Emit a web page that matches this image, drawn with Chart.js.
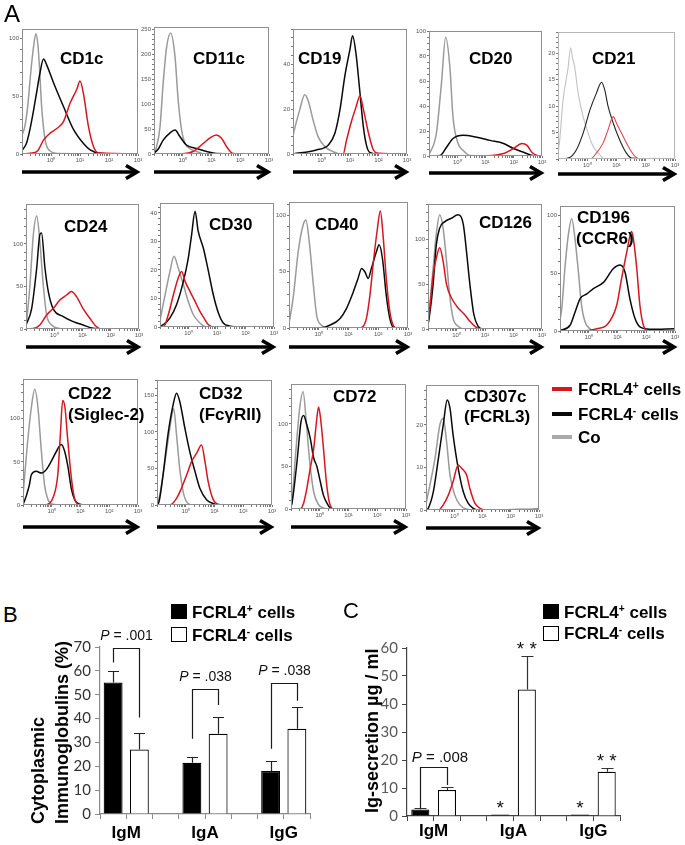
<!DOCTYPE html>
<html><head><meta charset="utf-8">
<script src="https://cdn.jsdelivr.net/npm/chart.js@4.4.1/dist/chart.umd.min.js"></script>
<style>
html,body{margin:0;padding:0;background:#fff;}
body{width:685px;height:845px;position:relative;overflow:hidden;font-family:"Liberation Sans",Arial,sans-serif;}
canvas{position:absolute;}
.t{position:absolute;white-space:nowrap;line-height:1;color:#000;}
.t sup{font-size:0.6em;position:relative;top:-0.55em;vertical-align:baseline;line-height:0;}
.sw{position:absolute;box-sizing:border-box;}
.rot{position:absolute;white-space:nowrap;font-weight:bold;font-size:18px;line-height:24px;transform-origin:0 0;transform:rotate(-90deg);color:#000;}
</style></head><body>
<script>
// ---------------- DATA: panel A histograms (x = log10 fluorescence, y = cell count) ----------------
const xMajor = [0, 1, 2, 3];
const xTickLabels = ['10⁰', '10¹', '10²', '10³'];

const cd1cCo  = [[-1,16],[-0.9,24],[-0.8,42],[-0.7,70],[-0.6,93],[-0.52,104],[-0.45,94],[-0.4,76],[-0.32,40],[-0.2,12],[-0.05,3],[0.25,0.5],[3,0]];
const cd1cNeg = [[-1,3],[-0.85,9],[-0.72,22],[-0.6,38],[-0.49,54],[-0.38,70],[-0.26,82],[-0.15,77],[0.08,62],[0.43,41],[0.78,21],[1.12,9],[1.35,3.5],[1.7,0.5],[3,0]];
const cd1cPos = [[-1,0],[-0.6,1],[-0.45,3],[-0.26,12],[-0.03,18],[0.2,22],[0.43,28],[0.66,44],[0.89,56],[1.0,63],[1.12,52],[1.29,24],[1.47,6],[1.64,1],[3,0]];
const cd1cTicks = [0, 50, 100];

const cd11cCo  = [[-1,3],[-0.91,15],[-0.79,55],[-0.68,143],[-0.56,215],[-0.42,243],[-0.27,196],[-0.16,109],[-0.04,48],[0.08,21],[0.25,11],[0.48,5],[0.75,0],[3,0]];
const cd11cNeg = [[-1,2],[-0.85,10],[-0.68,28],[-0.45,42],[-0.27,48],[-0.1,35],[0.13,18],[0.48,11],[0.83,5],[1.17,1],[3,0]];
const cd11cPos = [[-1,0],[0,0.5],[0.36,5],[0.71,21],[0.94,32],[1.17,38],[1.34,32],[1.57,11],[1.75,1],[2,0],[3,0]];
const cd11cTicks = [0, 50, 100, 150, 200, 250];

const cd19Co  = [[-1,8],[-0.98,9.3],[-0.76,20],[-0.59,26.6],[-0.47,24],[-0.29,15],[-0.12,7.8],[0.12,3.3],[0.41,1],[0.7,0],[3,0]];
const cd19Neg = [[-1,0],[-0.18,1.8],[0.24,4],[0.47,9.3],[0.65,20],[0.82,35],[1.0,47],[1.09,53],[1.21,45],[1.33,30],[1.47,12],[1.59,3.3],[1.71,0.6],[2,0],[3,0]];
const cd19Pos = [[-1,0],[0.76,0],[0.88,6.3],[1.06,15],[1.21,21],[1.35,26],[1.47,20],[1.65,9.3],[1.82,1.8],[2.0,0.3],[3,0]];
const cd19Ticks = [0, 20, 40];

const cd20Co  = [[-1,1],[-0.98,2],[-0.74,18],[-0.56,58],[-0.41,95],[-0.26,71],[-0.15,31],[0.03,10],[0.21,4.5],[0.45,0.5],[3,0]];
const cd20Neg = [[-1,0],[-0.6,0.5],[-0.38,7],[-0.15,14],[0.21,16.6],[0.69,15],[1.16,12.5],[1.64,10],[1.99,6],[2.35,3],[2.58,1],[2.8,0],[3,0]];
const cd20Pos = [[-1,0],[1.04,0.3],[1.64,2],[1.99,6],[2.29,10],[2.47,8.5],[2.64,3],[2.82,0.5],[3,0]];
const cd20Ticks = [0, 20, 40, 60, 80, 100];

const cd21Co  = [[-1,1],[-0.94,3.6],[-0.83,11],[-0.66,17],[-0.57,21],[-0.5,19],[-0.43,17.4],[-0.31,12.4],[-0.14,8],[0.03,4.9],[0.2,2.4],[0.43,0.8],[0.6,0],[3,0]];
const cd21Neg = [[-1,0],[-0.6,0.3],[-0.37,1.75],[-0.14,4.9],[0.09,9.25],[0.31,12.4],[0.49,14.5],[0.6,13],[0.71,10],[0.89,6.75],[1.11,3.6],[1.34,1.1],[1.51,0.2],[3,0]];
const cd21Pos = [[-1,0],[0.1,0],[0.31,1.1],[0.54,3],[0.71,5.5],[0.89,8],[1.0,6.75],[1.17,4.9],[1.4,2.4],[1.63,0.5],[1.8,0],[3,0]];
const cd21Ticks = [5, 10, 15, 20];

const cd24Co  = [[-1,4],[-0.98,8.7],[-0.86,52],[-0.74,111],[-0.62,133],[-0.51,103],[-0.39,52],[-0.27,16.5],[-0.09,4.7],[0.14,0.8],[0.4,0],[3,0]];
const cd24Neg = [[-1,4.7],[-0.8,24],[-0.62,72],[-0.51,111],[-0.45,113],[-0.33,72],[-0.21,44],[-0.04,24],[0.32,14.6],[0.67,8.7],[1.02,4.7],[1.38,0.8],[1.6,0],[3,0]];
const cd24Pos = [[-1,0],[-0.75,0.5],[-0.51,4.7],[-0.27,16.5],[-0.04,24],[0.2,34],[0.44,40],[0.61,44],[0.79,38],[1.02,24],[1.26,12.6],[1.49,2.8],[1.67,0],[3,0]];
const cd24Ticks = [0, 50, 100];

const cd30Co  = [[-1,2],[-0.98,3.2],[-0.82,11.3],[-0.65,19.5],[-0.51,24.8],[-0.36,20.7],[-0.18,14.9],[-0.01,9],[0.17,4.3],[0.4,1.4],[0.64,0],[3,0]];
const cd30Neg = [[-1,0.3],[-0.88,0.8],[-0.65,3.2],[-0.42,7.8],[-0.18,16],[-0.01,24],[0.11,32.4],[0.23,40.6],[0.34,33.6],[0.52,27.7],[0.7,19.5],[0.87,11.3],[1.05,4.9],[1.22,1.4],[1.46,0.3],[1.8,0],[3,0]];
const cd30Pos = [[-1,0],[-0.88,0],[-0.71,4.3],[-0.53,11.3],[-0.36,17.2],[-0.24,19.5],[-0.12,16],[0.05,12.5],[0.23,9],[0.4,5.5],[0.54,3.2],[0.7,0.8],[0.9,0],[3,0]];
const cd30Ticks = [0, 10, 20, 30, 40];

const cd40Co  = [[-1,5],[-0.97,8.3],[-0.85,29],[-0.69,68],[-0.52,92],[-0.43,96],[-0.32,77],[-0.18,38],[-0.07,11.3],[0.09,2.4],[0.26,0],[3,0]];
const cd40Neg = [[-1,0],[0.1,0.3],[0.37,2.4],[0.71,8.3],[0.93,17.3],[1.16,32],[1.32,44],[1.44,53],[1.55,50],[1.66,44],[1.77,53],[1.94,68],[2.03,74],[2.14,62],[2.27,29],[2.39,8.3],[2.5,0.9],[2.7,0],[3,0]];
const cd40Pos = [[-1,0],[1.38,0],[1.6,8.3],[1.72,29],[1.85,62],[1.96,86],[2.07,104],[2.16,83],[2.27,44],[2.39,14.3],[2.5,2.4],[2.61,0],[3,0]];
const cd40Ticks = [0, 50, 100];

const cd126Co  = [[-1,10],[-0.96,20],[-0.82,68],[-0.71,106],[-0.59,128],[-0.47,113],[-0.35,76],[-0.24,38],[-0.12,12],[0.06,3],[0.25,0],[3,0]];
const cd126Neg = [[-1,5],[-0.96,12],[-0.82,50],[-0.71,94],[-0.59,113],[-0.42,120],[-0.18,124],[0.05,128],[0.24,117],[0.35,87],[0.47,50],[0.61,16],[0.76,3],[0.94,0],[3,0]];
const cd126Pos = [[-1,8],[-0.96,16],[-0.82,61],[-0.71,79],[-0.59,91],[-0.47,76],[-0.35,50],[-0.18,35],[0.06,23.5],[0.29,16],[0.47,8.6],[0.65,3],[0.82,0],[3,0]];
const cd126Ticks = [0, 50, 100];

const cd196Co  = [[-1,10],[-0.94,19],[-0.83,54],[-0.71,83],[-0.59,97],[-0.48,80],[-0.36,51],[-0.25,22],[-0.13,8],[0.04,2],[0.2,0],[3,0]];
const cd196Neg = [[-1,0.5],[-0.65,5],[-0.48,16],[-0.3,28],[-0.07,32],[0.16,36.6],[0.51,42],[0.86,54],[1.09,57],[1.26,51],[1.43,28],[1.61,10.7],[1.78,3.5],[2.13,1.5],[3,2]];
const cd196Pos = [[-1,0],[0,0.5],[0.28,2],[0.62,5],[0.97,22],[1.14,45],[1.32,68],[1.49,86],[1.55,80],[1.67,54],[1.78,22],[1.9,5],[2.07,0],[3,0]];
const cd196Ticks = [0, 50, 100];

const cd22Co  = [[-1,10],[-0.98,19],[-0.86,66],[-0.71,113],[-0.59,134],[-0.48,113],[-0.36,62],[-0.25,23],[-0.13,6],[0.04,1],[0.3,0],[3,0]];
const cd22Neg = [[-1,1],[-0.98,2],[-0.78,23],[-0.71,35],[-0.54,39],[-0.36,37],[-0.19,41],[-0.01,51],[0.16,62],[0.33,70],[0.45,62],[0.57,43],[0.68,19],[0.8,6],[0.97,1],[1.2,0],[3,0]];
const cd22Pos = [[-1,0],[-0.3,0],[-0.08,2],[0.04,8],[0.21,35],[0.3,82],[0.38,121],[0.46,113],[0.55,78],[0.67,35],[0.79,8],[0.91,1],[1.1,0],[3,0]];
const cd22Ticks = [0, 50, 100];

const cd32Co  = [[-1,3],[-0.93,9],[-0.79,41],[-0.62,87],[-0.5,119],[-0.42,132],[-0.32,96],[-0.21,50],[-0.09,18],[0.08,2],[0.25,0],[3,0]];
const cd32Neg = [[-1,1],[-0.93,4.5],[-0.79,41],[-0.62,96],[-0.44,137],[-0.32,153],[-0.21,142],[-0.03,105],[0.14,73],[0.32,46],[0.49,23],[0.73,7],[0.96,2],[1.13,0],[3,0]];
const cd32Pos = [[-1,0],[-0.55,0],[-0.32,9],[-0.15,23],[0.03,41],[0.2,59],[0.38,71],[0.55,82],[0.67,59],[0.78,32],[0.96,7],[1.13,1],[1.3,0],[3,0]];
const cd32Ticks = [0, 50, 100, 150];

const cd72Co  = [[-1,3],[-0.965,9],[-0.85,60],[-0.7,118],[-0.58,138],[-0.47,103],[-0.35,56],[-0.21,20],[-0.04,5],[0.13,1],[0.3,0],[3,0]];
const cd72Neg = [[-1,3],[-0.965,7],[-0.79,56],[-0.65,103],[-0.56,110],[-0.45,99],[-0.33,83],[-0.21,60],[-0.1,50],[0.02,32],[0.13,16],[0.25,7],[0.36,1.5],[0.5,0],[3,0]];
const cd72Pos = [[-1,0],[-0.68,0],[-0.56,7],[-0.45,24],[-0.33,48],[-0.21,71],[-0.1,107],[-0.04,120],[0.04,103],[0.13,71],[0.23,32],[0.34,7],[0.48,0],[3,0]];
const cd72Ticks = [0, 50, 100];

const cd307cCo  = [[-1,1],[-0.98,2],[-0.86,5.9],[-0.68,12.2],[-0.51,20],[-0.39,21.6],[-0.27,16],[-0.15,8.2],[0.02,3.5],[0.2,1.2],[0.44,0.2],[0.7,0],[3,0]];
const cd307cNeg = [[-1,0],[-0.92,0.4],[-0.74,4.3],[-0.56,12.2],[-0.39,20],[-0.25,25.9],[-0.15,23.9],[-0.04,17.6],[0.14,9.8],[0.32,4.3],[0.49,1.6],[0.67,0.4],[0.9,0],[3,0.2]];
const cd307cPos = [[-1,0],[-0.55,0],[-0.39,1.2],[-0.21,3.5],[-0.04,6.7],[0.14,10.6],[0.26,9.8],[0.44,8.2],[0.55,5.1],[0.73,1.6],[0.91,0.4],[1.14,0],[3,0]];
const cd307cTicks = [0, 10, 20];

// ---------------- DATA: panels B and C ----------------
const igCategories = ['IgM', 'IgA', 'IgG'];
const cytoPos   = [55.1, 21.5, 18.0];
const cytoPosSd = [4.9, 2.4, 4.2];
const cytoNeg   = [27.0, 33.6, 35.7];
const cytoNegSd = [7.0, 7.2, 9.3];
const cytoP            = ['.001', '.038', '.038'];
const cytoBracketTop   = [69.7, 52.4, 55.1];
const cytoBracketLeft  = [63.5, 31.5, 27.4];
const cytoBracketRight = [40.5, 45.7, 47.5];
const cytoYTicks = [0, 10, 20, 30, 40, 50, 60, 70];

const secPos   = [2.3, 0.5, 0.5];
const secPosSd = [0.6, 0, 0];
const secNeg   = [9.3, 45.2, 15.8];
const secNegSd = [1.2, 11.9, 1.4];
const secP            = ['.008', '', ''];
const secBracketTop   = [17.5, null, null];
const secBracketLeft  = [2.9, null, null];
const secBracketRight = [11.1, null, null];
const secSigPos = ['', '*', '*'];
const secSigNeg = ['', '**', '**'];
const secYTicks = [0, 10, 20, 30, 40, 50, 60];

// ---------------- STYLE / LAYOUT ----------------
const RED = '#d8161f', BLK = '#0a0a0a', GRY = '#9a9a9a';
Chart.defaults.font.family = '"Liberation Sans", Arial, sans-serif';

const panelsA = [
  {co:cd1cCo, neg:cd1cNeg, pos:cd1cPos, ymax:108, ystep:10, yMajor:cd1cTicks, box:[22,29,138,154], arrowY:172, title:[['CD1c',60,64]]},
  {co:cd11cCo, neg:cd11cNeg, pos:cd11cPos, ymax:255, ystep:10, yMajor:cd11cTicks, box:[154,27,269,154], arrowY:172, title:[['CD11c',193,64]]},
  {co:cd19Co, neg:cd19Neg, pos:cd19Pos, ymax:56, ystep:4, yMajor:cd19Ticks, box:[293,29,407,154], arrowY:172, title:[['CD19',298,64]]},
  {co:cd20Co, neg:cd20Neg, pos:cd20Pos, ymax:100, ystep:5, yMajor:cd20Ticks, box:[429,31,542,156], arrowY:173, title:[['CD20',469,64]]},
  {co:cd21Co, neg:cd21Neg, pos:cd21Pos, ymax:24, ystep:1, yMajor:cd21Ticks, box:[558,32,675,159], arrowY:174, title:[['CD21',592,64]], faint:true},
  {co:cd24Co, neg:cd24Neg, pos:cd24Pos, ymax:147, ystep:10, yMajor:cd24Ticks, box:[26,204,139,329], arrowY:347, title:[['CD24',64,232]]},
  {co:cd30Co, neg:cd30Neg, pos:cd30Pos, ymax:43.5, ystep:2, yMajor:cd30Ticks, box:[160,203,274,327], arrowY:347, title:[['CD30',209,230]]},
  {co:cd40Co, neg:cd40Neg, pos:cd40Pos, ymax:112, ystep:10, yMajor:cd40Ticks, box:[289,202,408,328], arrowY:347, title:[['CD40',315,230]]},
  {co:cd126Co, neg:cd126Neg, pos:cd126Pos, ymax:140, ystep:10, yMajor:cd126Ticks, box:[428,204,542,329], arrowY:347, title:[['CD126',479,228]]},
  {co:cd196Co, neg:cd196Neg, pos:cd196Pos, ymax:108, ystep:10, yMajor:cd196Ticks, box:[560,206,675,331], arrowY:347, title:[['CD196',577,223],['(CCR6)',576,244]]},
  {co:cd22Co, neg:cd22Neg, pos:cd22Pos, ymax:146, ystep:10, yMajor:cd22Ticks, box:[23,379,138,505], arrowY:527, title:[['CD22',68,399],['(Siglec-2)',68,420]]},
  {co:cd32Co, neg:cd32Neg, pos:cd32Pos, ymax:171, ystep:10, yMajor:cd32Ticks, box:[157,380,272,505], arrowY:527, title:[['CD32',199,399],['(FcγRII)',199,420]]},
  {co:cd72Co, neg:cd72Neg, pos:cd72Pos, ymax:147, ystep:10, yMajor:cd72Ticks, box:[291,384,406,509], arrowY:527, title:[['CD72',333,402]]},
  {co:cd307cCo, neg:cd307cNeg, pos:cd307cPos, ymax:29.4, ystep:2, yMajor:cd307cTicks, box:[426,385,539,510], arrowY:528, title:[['CD307c',464,402],['(FCRL3)',464,422]]}
];

function zeroPad(s){ s.paddingLeft = 0; s.paddingRight = 0; s.paddingTop = 0; s.paddingBottom = 0; }

function addText(html, x, baseline, size, bold, color){
  const d = document.createElement('div');
  d.className = 't'; d.innerHTML = html;
  d.style.left = x + 'px';
  d.style.top = (baseline - 0.8465 * size) + 'px';
  d.style.fontSize = size + 'px';
  if (bold) d.style.fontWeight = 'bold';
  if (color) d.style.color = color;
  document.body.appendChild(d);
}
function addBox(x, y, w, h, bg, border){
  const d = document.createElement('div');
  d.className = 'sw';
  Object.assign(d.style, {left:x+'px', top:y+'px', width:w+'px', height:h+'px', background:bg, border:border||'none'});
  document.body.appendChild(d);
}

const boxPlugin = {
  id:'histBox',
  afterDraw(chart, args, opts){
    const {ctx, chartArea:a} = chart;
    ctx.save();
    ctx.strokeStyle = opts.color || '#8f8f8f'; ctx.lineWidth = 1;
    ctx.strokeRect(Math.round(a.left)+0.5, Math.round(a.top)+0.5, Math.round(a.right-a.left)-1, Math.round(a.bottom-a.top)-1);
    // axis arrow
    const y = a.bottom + opts.arrowOff;
    ctx.strokeStyle = '#000'; ctx.lineWidth = 3.6; ctx.lineCap = 'butt'; ctx.lineJoin = 'miter';
    ctx.beginPath(); ctx.moveTo(a.left, y); ctx.lineTo(a.right - 3, y); ctx.stroke();
    ctx.beginPath(); ctx.moveTo(a.right - 12, y - 6.5); ctx.lineTo(a.right - 1, y); ctx.lineTo(a.right - 12, y + 6.5); ctx.stroke();
    ctx.restore();
  }
};

function histChart(p){
  const YW = 22, XH = 14, PT = 4, PR = 6;
  const L = p.box[0], T = p.box[1], W = p.box[2] - p.box[0], H = p.box[3] - p.box[1];
  const arrowOff = p.arrowY - p.box[3];
  const PB = Math.max(4, arrowOff - 6);
  const cv = document.createElement('canvas');
  const cw = YW + W + PR, ch = PT + H + XH + PB;
  cv.width = cw; cv.height = ch;
  Object.assign(cv.style, {left:(L-YW)+'px', top:(T-PT)+'px', width:cw+'px', height:ch+'px'});
  document.body.appendChild(cv);
  const xTicks = [];
  for (let d = -1; d <= 2; d++) for (let k = 1; k <= 9; k++) xTicks.push(d + Math.log10(k));
  xTicks.push(3);
  const yTicks = [];
  for (let k = 0; k * p.ystep <= p.ymax + 1e-9; k++) yTicks.push(k * p.ystep);
  const lw = p.faint ? 1.1 : 1.5;
  const ds = (data, color) => ({data, borderColor:color, borderWidth:lw, pointRadius:0, fill:false, cubicInterpolationMode:'monotone'});
  new Chart(cv, {
    type:'line',
    data:{datasets:[ds(p.pos, p.faint ? '#e0474d' : RED), ds(p.neg, p.faint ? '#222' : BLK), ds(p.co, p.faint ? '#c2c2c2' : GRY)]},
    options:{
      responsive:false, animation:false, events:[],
      layout:{padding:{top:PT, right:PR, bottom:PB, left:0}},
      plugins:{legend:{display:false}, tooltip:{enabled:false}, histBox:{arrowOff, color: p.faint ? '#b5b5b5' : '#8f8f8f'}},
      scales:{
        x:{type:'linear', min:-1, max:3,
          afterBuildTicks:s => { s.ticks = xTicks.map(v => ({value:v})); },
          afterFit:s => { s.height = XH; zeroPad(s); },
          ticks:{autoSkip:false, maxRotation:0, minRotation:0, font:{size:6}, color:'#555', padding:1,
            callback:v => { const i = xMajor.indexOf(v); return i >= 0 ? xTickLabels[i] : ''; }},
          grid:{drawOnChartArea:false, tickLength:2, color:'#777'},
          border:{display:false}},
        y:{type:'linear', min:0, max:p.ymax,
          afterBuildTicks:s => { s.ticks = yTicks.map(v => ({value:v})); },
          afterFit:s => { s.width = YW; zeroPad(s); },
          ticks:{autoSkip:false, font:{size:6}, color:'#555', padding:1,
            callback:v => p.yMajor.includes(v) ? String(v) : ''},
          grid:{drawOnChartArea:false, tickLength:2, color:'#777'},
          border:{display:false}}
      }
    },
    plugins:[boxPlugin]
  });
  p.title.forEach(([t, x, b]) => addText(t, x, b, 17, true));
}

function drawP(ctx, text, cx, baseline, size){
  ctx.fillStyle = '#111'; ctx.textBaseline = 'alphabetic'; ctx.textAlign = 'left';
  ctx.font = 'italic ' + size + 'px "Liberation Sans", Arial, sans-serif';
  const wP = ctx.measureText('P').width;
  ctx.font = size + 'px "Liberation Sans", Arial, sans-serif';
  const rest = ' = ' + text;
  const wR = ctx.measureText(rest).width;
  const x0 = cx - (wP + wR) / 2;
  ctx.font = 'italic ' + size + 'px "Liberation Sans", Arial, sans-serif';
  ctx.fillText('P', x0, baseline);
  ctx.font = size + 'px "Liberation Sans", Arial, sans-serif';
  ctx.fillText(rest, x0 + wP, baseline);
}

function igAnnotations(o){
  return {
    id:'igAnn',
    afterDatasetsDraw(chart){
      const {ctx, chartArea:a, scales:{x, y}} = chart;
      ctx.save();
      // error bars (upper only)
      ctx.strokeStyle = o.errColor; ctx.lineWidth = 1.2;
      [[o.pos, o.posSd, 0], [o.neg, o.negSd, 1]].forEach(([vals, sds, off]) => {
        vals.forEach((v, i) => {
          const sd = sds[i]; if (!sd) return;
          const px = Math.round(x.getPixelForValue(3 * i + off)) + 0.5;
          const y0 = y.getPixelForValue(v), y1 = Math.round(y.getPixelForValue(v + sd)) + 0.5;
          ctx.beginPath(); ctx.moveTo(px, y0); ctx.lineTo(px, y1);
          ctx.moveTo(px - o.cap, y1); ctx.lineTo(px + o.cap, y1); ctx.stroke();
        });
      });
      // significance brackets
      ctx.strokeStyle = '#1a1a1a'; ctx.lineWidth = 1.2;
      o.cats.forEach((c, i) => {
        if (!o.pText[i]) return;
        const lx = Math.round(x.getPixelForValue(3 * i)) + 0.5, rx = Math.round(x.getPixelForValue(3 * i + 1)) + 0.5;
        const ty = Math.round(y.getPixelForValue(o.bTop[i])) + 0.5;
        ctx.beginPath();
        ctx.moveTo(lx, y.getPixelForValue(o.bLeft[i])); ctx.lineTo(lx, ty);
        ctx.lineTo(rx, ty); ctx.lineTo(rx, y.getPixelForValue(o.bRight[i]));
        ctx.stroke();
        drawP(ctx, o.pText[i], (lx + rx) / 2 + o.pDx, ty - o.pGap, o.pFont);
      });
      // asterisks
      if (o.stars) {
        ctx.fillStyle = '#111'; ctx.textAlign = 'center'; ctx.textBaseline = 'alphabetic';
        ctx.font = '19px "Liberation Sans", Arial, sans-serif';
        [[o.stars[0], o.pos, o.posSd, 0], [o.stars[1], o.neg, o.negSd, 1]].forEach(([marks, vals, sds, off]) => {
          marks.forEach((m, i) => {
            if (!m) return;
            const px = x.getPixelForValue(3 * i + off);
            const top = y.getPixelForValue(vals[i] + (sds[i] || 0));
            const txt = m.split('').join(' ');
            ctx.fillText(txt, px, top - 1);
          });
        });
      }
      // category labels
      ctx.fillStyle = '#000'; ctx.textAlign = 'center'; ctx.textBaseline = 'alphabetic';
      ctx.font = 'bold 17px "Liberation Sans", Arial, sans-serif';
      o.cats.forEach((c, i) => {
        const cx = (x.getPixelForValue(3 * i) + x.getPixelForValue(3 * i + 1)) / 2;
        ctx.fillText(c, cx, a.bottom + o.labelOff);
      });
      ctx.restore();
    }
  };
}

function igChart(o){
  const n = o.cats.length, len = n * 3 - 1;
  const posSlots = Array(len).fill(null), negSlots = Array(len).fill(null);
  o.pos.forEach((v, i) => { posSlots[3 * i] = v; });
  o.neg.forEach((v, i) => { negSlots[3 * i + 1] = v; });
  const cv = document.createElement('canvas');
  cv.width = o.cw; cv.height = o.ch;
  Object.assign(cv.style, {left:o.cx+'px', top:o.cy+'px', width:o.cw+'px', height:o.ch+'px'});
  document.body.appendChild(cv);
  const bar = (data, bg) => ({data, backgroundColor:bg, borderColor:'#000', borderWidth:1.2, grouped:false, barPercentage:o.barPct, categoryPercentage:1});
  new Chart(cv, {
    type:'bar',
    data:{labels:Array(len).fill(''), datasets:[bar(posSlots, '#000'), bar(negSlots, '#fff')]},
    options:{
      responsive:false, animation:false, events:[],
      layout:{padding:{top:o.pt, right:o.pr, left:0, bottom:0}},
      plugins:{legend:{display:false}, tooltip:{enabled:false}},
      scales:{
        x:{offset:true, ticks:{display:false},
          grid:{offset:true, drawOnChartArea:false, tickLength:5, color:o.axisColor},
          border:{color:o.axisColor, width:1.2},
          afterFit:s => { s.height = o.xh; zeroPad(s); }},
        y:{min:0, max:o.ymax,
          afterBuildTicks:s => { s.ticks = o.yTicks.map(v => ({value:v})); },
          ticks:{font:{size:15, family:'Lato'}, color:o.tickColor, padding:4},
          grid:{drawOnChartArea:false, tickLength:5, color:o.axisColor},
          border:{color:o.axisColor, width:1.2},
          afterFit:s => { s.width = o.yw; zeroPad(s); }}
      }
    },
    plugins:[igAnnotations(o)]
  });
}

// ---------------- BUILD ----------------
panelsA.forEach(histChart);

igChart({cats:igCategories, pos:cytoPos, posSd:cytoPosSd, neg:cytoNeg, negSd:cytoNegSd,
  pText:cytoP, bTop:cytoBracketTop, bLeft:cytoBracketLeft, bRight:cytoBracketRight, yTicks:cytoYTicks,
  ymax:70, cx:70, cy:620, cw:244, ch:225, pt:27, pr:4, yw:30, xh:31, barPct:0.72,
  axisColor:'#8a8a8a', tickColor:'#333', errColor:'#222', cap:5.5, pFont:14, pGap:9, pDx:0, labelOff:24});

igChart({cats:igCategories, pos:secPos, posSd:secPosSd, neg:secNeg, negSd:secNegSd,
  pText:secP, bTop:secBracketTop, bLeft:secBracketLeft, bRight:secBracketRight, yTicks:secYTicks,
  stars:[secSigPos, secSigNeg],
  ymax:60, cx:370, cy:620, cw:254, ch:225, pt:28, pr:4, yw:37, xh:29, barPct:0.68,
  axisColor:'#444', tickColor:'#595959', errColor:'#333', cap:6, pFont:15, pGap:6, pDx:6, labelOff:20});

// panel letters
addText('A', 4, 22, 24, false);
addText('B', 3, 623, 22, false);
addText('C', 343, 619, 22, false);

// panel A legend
[[RED, 'FCRL4<sup>+</sup> cells', 389], [BLK, 'FCRL4<sup>-</sup> cells', 414], ['#aaaaaa', 'Co', 437]].forEach(([c, t, cy]) => {
  addBox(552, cy - 2, 20, 4, c);
  addText(t, 578, cy + 6, 17, true);
});

// panel B legend
addBox(171, 604, 16, 15, '#000', '1px solid #000');
addBox(171, 627, 16, 15, '#fff', '1px solid #000');
addText('FCRL4<sup>+</sup> cells', 192, 618, 17, true);
addText('FCRL4<sup>-</sup> cells', 192, 641, 17, true);

// panel C legend
addBox(543, 604, 16, 15, '#000', '1px solid #000');
addBox(543, 626, 16, 15, '#fff', '1px solid #000');
addText('FCRL4<sup>+</sup> cells', 564, 618, 17, true);
addText('FCRL4<sup>-</sup> cells', 564, 639, 17, true);

// rotated axis titles
function addRot(html, left, bottom){
  const d = document.createElement('div');
  d.className = 'rot'; d.innerHTML = html;
  d.style.left = left + 'px'; d.style.top = bottom + 'px';
  document.body.appendChild(d);
}
addRot('Cytoplasmic<br>Immunoglobulins (%)', 26, 824);
addRot('Ig-secretion µg / ml', 360, 813);
</script>
</body></html>
